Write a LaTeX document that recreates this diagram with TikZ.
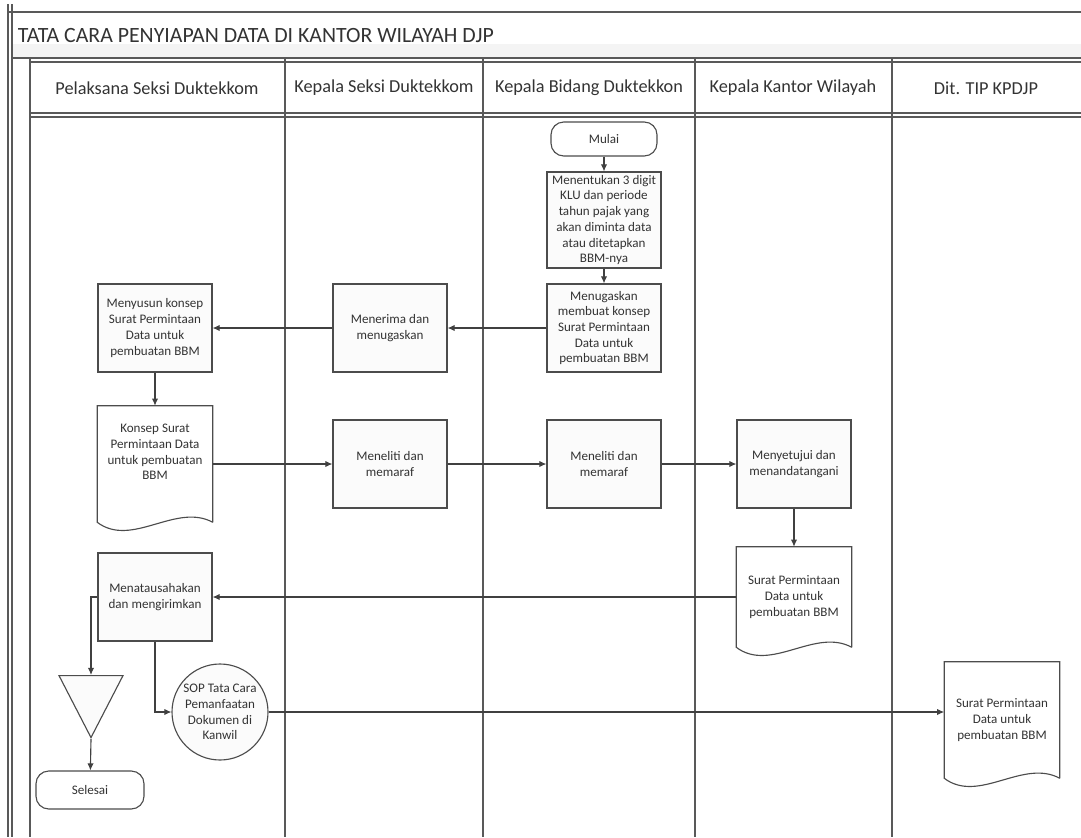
\documentclass[tikz,border=0pt]{standalone}
\usepackage{fontspec}
\setmainfont{Carlito}
\usetikzlibrary{calc}
\usetikzlibrary{arrows.meta}
\usetikzlibrary{shapes.geometric}

% outline of a document symbol round a plain node
\newcommand{\docshape}[1]{%
  \draw [boxline] (#1.south east) -- (#1.north east) -- (#1.north west) -- (#1.south west)
    .. controls ($(#1.south west)!0.3!(#1.south east)+(0,26)$) and ($(#1.south west)!0.68!(#1.south east)+(0,-20)$) .. (#1.south east);}

\begin{document}
\begin{tikzpicture}[x=0.25mm, y=-0.25mm,
  every node/.style={font=\fontsize{9.3}{11.2}\selectfont, text=black!80},
  boxline/.style={draw=black!70, line width=0.8pt},
  frame/.style={draw=black!65, line width=0.9pt},
  proc/.style={boxline, fill=gray!3, minimum width=114*\u, minimum height=88*\u, align=center, inner sep=1pt},
  term/.style={boxline, rounded corners=3.2mm, minimum width=106*\u, minimum height=34*\u},
  doc/.style={minimum width=115*\u, minimum height=116*\u, align=center, inner sep=0pt},
  head/.style={font=\fontsize{13}{15}\selectfont},
  flow/.style={draw=black!75, line width=0.8pt, -{Latex[length=5pt, width=4.5pt]}}]
\def\u{0.25mm}
\useasboundingbox (0,0) rectangle (1081,837);

% frame and lanes
\fill [gray!9] (12,44) rectangle (1081,58);
\draw [frame] (8,4) -- (8,837);
\draw [frame] (12,4) -- (12,837);
\draw [frame] (8,12) -- (1081,12);
\draw [frame] (12,58) -- (1081,58);
\draw [frame] (30,62) -- (1081,62);
\draw [frame] (30,113) -- (1081,113);
\draw [frame] (30,117) -- (1081,117);
\draw [frame] (30,58) -- (30,837);
\foreach \x in {285,483,695,892}
  \draw [frame] (\x,58) -- (\x,837);

\node (title) [anchor=west, font=\fontsize{15.5}{17}\selectfont] at (13,35) {TATA CARA PENYIAPAN DATA DI KANTOR WILAYAH DJP};
\foreach \x/\t [count=\i] in {157/Pelaksana Seksi Duktekkom, 384/Kepala Seksi Duktekkom,
    589/Kepala Bidang Duktekkon, 793/Kepala Kantor Wilayah, 986/Dit. TIP KPDJP}
  \node (lane\i) [head] at (\x,88) {\t};

% steps
\node (mulai) [term] at (604,139) {Mulai};
\node (klu) [proc, minimum height=96*\u] at (604,220) {Menentukan 3 digit\\KLU dan periode\\tahun pajak yang\\akan diminta data\\atau ditetapkan\\BBM-nya};
\node (tugas) [proc] at (604,328) {Menugaskan\\membuat konsep\\Surat Permintaan\\Data untuk\\pembuatan BBM};
\node (terima) [proc] at (390,328) {Menerima dan\\menugaskan};
\node (susun) [proc] at (155,328) {Menyusun konsep\\Surat Permintaan\\Data untuk\\pembuatan BBM};
\node (konsep) [doc] at (155,464) {Konsep Surat\\Permintaan Data\\untuk pembuatan\\BBM\\[6pt]};
\docshape{konsep}
\node (teliti) [proc] at (390,464) {Meneliti dan\\memaraf};
\node (paraf) [proc] at (604,464) {Meneliti dan\\memaraf};
\node (setuju) [proc] at (794,464) {Menyetujui dan\\menandatangani};
\node (surat) [doc, minimum height=100*\u] at (794,597) {Surat Permintaan\\Data untuk\\pembuatan BBM};
\docshape{surat}
\node (kirim) [proc] at (155,597) {Menatausahakan\\dan mengirimkan};
\node (arsip) [boxline, fill=gray!3, isosceles triangle, shape border rotate=-90, isosceles triangle stretches,
  minimum width=64*\u, minimum height=62*\u, inner sep=0pt, anchor=north] at (91,675) {};
\node (selesai) [term, minimum width=108*\u, minimum height=38*\u] at (90,790) {Selesai};
\node (sop) [boxline, circle, fill=gray!3, minimum size=96*\u, align=center, inner sep=0pt] at (220,712) {SOP Tata Cara\\Pemanfaatan\\Dokumen di\\Kanwil};
\node (kpdjp) [doc] at (1002,720) {Surat Permintaan\\Data untuk\\pembuatan BBM};
\docshape{kpdjp}

% flows
\draw [flow] (mulai) -- (klu);
\draw [flow] (klu) -- (tugas);
\draw [flow] (tugas) -- (terima);
\draw [flow] (terima) -- (susun);
\draw [flow] (susun) -- (konsep);
\draw [flow] (konsep) -- (teliti);
\draw [flow] (teliti) -- (paraf);
\draw [flow] (paraf) -- (setuju);
\draw [flow] (setuju) -- (surat);
\draw [flow] (surat) -- (kirim);
\draw [flow] (kirim.west) -| (arsip.north);
\draw [flow] (arsip.south) -- (selesai);
\draw [flow] (kirim.south) |- (sop.west);
\draw [flow] (sop.east) -- (sop.east -| kpdjp.west);
\end{tikzpicture}
\end{document}
